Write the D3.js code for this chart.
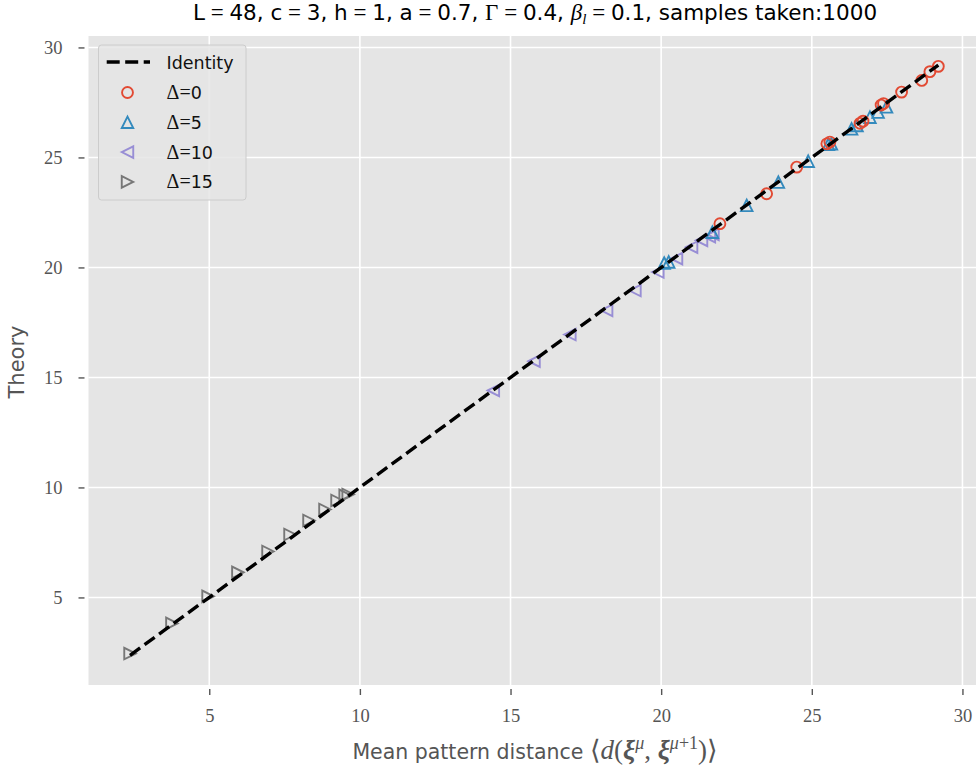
<!DOCTYPE html>
<html>
<head>
<meta charset="utf-8">
<script src="https://cdn.jsdelivr.net/npm/d3@7"></script>
<style>
  html, body { margin: 0; padding: 0; background: #ffffff; }
  svg { display: block; }
  .sans { font-family: "DejaVu Sans", "Noto Sans", sans-serif; }
  .serif { font-family: "Liberation Serif", "DejaVu Serif", serif; }
</style>
</head>
<body>
<svg id="chart" width="978" height="774"></svg>
<script>
// Measured mean pattern distance (x) versus theoretical prediction (y), per Δ
const delta0X  = [21.95, 23.50, 24.50, 25.50, 25.60, 26.60, 26.70, 27.30, 27.38, 27.98, 28.65, 28.92, 29.20];
const delta0Y  = [21.99, 23.35, 24.56, 25.62, 25.70, 26.55, 26.65, 27.38, 27.45, 27.97, 28.50, 28.90, 29.14];
const delta5X  = [20.10, 20.25, 21.70, 22.84, 23.89, 24.88, 25.55, 25.65, 26.32, 26.50, 26.93, 27.20, 27.48];
const delta5Y  = [20.20, 20.25, 21.60, 22.82, 23.88, 24.83, 25.60, 25.62, 26.30, 26.45, 26.83, 27.06, 27.30];
const delta10X = [14.43, 15.78, 16.97, 18.19, 19.13, 19.89, 20.51, 21.01, 21.34, 21.60, 21.72];
const delta10Y = [14.41, 15.74, 16.95, 18.05, 18.95, 19.79, 20.40, 20.92, 21.23, 21.40, 21.50];
const delta15X = [2.37, 3.76, 4.96, 5.95, 6.95, 7.68, 8.31, 8.84, 9.24, 9.51, 9.61];
const delta15Y = [2.45, 3.82, 5.05, 6.14, 7.09, 7.86, 8.50, 9.00, 9.41, 9.64, 9.68];

const identityRange = [2.37, 29.20];
const xTicks = [5, 10, 15, 20, 25, 30];
const yTicks = [5, 10, 15, 20, 25, 30];
const seriesLabels = ["0", "5", "10", "15"];

const series = [
  { label: seriesLabels[0], xs: delta0X,  ys: delta0Y,  color: "#E24A33", shape: "circle" },
  { label: seriesLabels[1], xs: delta5X,  ys: delta5Y,  color: "#348ABD", shape: "up" },
  { label: seriesLabels[2], xs: delta10X, ys: delta10Y, color: "#988ED5", shape: "left" },
  { label: seriesLabels[3], xs: delta15X, ys: delta15Y, color: "#777777", shape: "right" }
];

const svg = d3.select("#chart");
const plot = { left: 88.5, right: 976, top: 36, bottom: 685 };

const x = d3.scaleLinear().domain([0.992, 30.45]).range([plot.left, plot.right]);
const y = d3.scaleLinear().domain([1.02, 30.52]).range([plot.bottom, plot.top]);

// Panel background
svg.append("rect")
  .attr("x", plot.left).attr("y", plot.top)
  .attr("width", plot.right - plot.left).attr("height", plot.bottom - plot.top)
  .attr("fill", "#E5E5E5");

// Grid
const grid = svg.append("g");
grid.selectAll("line.gx").data(xTicks).join("line")
  .attr("x1", d => x(d)).attr("x2", d => x(d))
  .attr("y1", plot.top).attr("y2", plot.bottom)
  .attr("stroke", "#ffffff").attr("stroke-width", 1.6);
grid.selectAll("line.gy").data(yTicks).join("line")
  .attr("y1", d => y(d)).attr("y2", d => y(d))
  .attr("x1", plot.left).attr("x2", plot.right)
  .attr("stroke", "#ffffff").attr("stroke-width", 1.6);

// Axes: short dark ticks set slightly off the panel, serif tick labels
const xAxis = d3.axisBottom(x).tickValues(xTicks).tickSize(6).tickPadding(14).tickFormat(d3.format("d"));
const gx = svg.append("g").attr("transform", `translate(0,${plot.bottom + 4})`).call(xAxis);
gx.select(".domain").remove();
gx.selectAll(".tick line").attr("stroke", "#555555").attr("stroke-width", 1.4);
gx.selectAll(".tick text").attr("class", "serif").attr("font-size", 18.5).attr("fill", "#555555");

const yAxis = d3.axisLeft(y).tickValues(yTicks).tickSize(6).tickPadding(16).tickFormat(d3.format("d"));
const gy = svg.append("g").attr("transform", `translate(${plot.left - 4},0)`).call(yAxis);
gy.select(".domain").remove();
gy.selectAll(".tick line").attr("stroke", "#555555").attr("stroke-width", 1.4);
gy.selectAll(".tick text").attr("class", "serif").attr("font-size", 18.5).attr("fill", "#555555");

// Marker shapes
const MS = 11.5;
function markerPath(shape, s) {
  const h = s / 2;
  if (shape === "up") return `M0,${-h}L${h},${h}L${-h},${h}Z`;
  if (shape === "left") return `M${-h},0L${h},${-h}L${h},${h}Z`;
  if (shape === "right") return `M${h},0L${-h},${h}L${-h},${-h}Z`;
  return null;
}
function drawMarker(g, shape, color) {
  if (shape === "circle") {
    g.append("circle").attr("r", MS / 2 - 0.3)
      .attr("fill", "none").attr("stroke", color).attr("stroke-width", 1.9);
  } else {
    g.append("path").attr("d", markerPath(shape, MS))
      .attr("fill", "none").attr("stroke", color).attr("stroke-width", 1.9)
      .attr("stroke-linejoin", "miter");
  }
}

// Points (drawn from the last series to the first so Δ=0 ends on top)
const pts = svg.append("g");
series.slice().reverse().forEach(s => {
  s.xs.forEach((xv, i) => {
    const g = pts.append("g").attr("transform", `translate(${x(xv)},${y(s.ys[i])})`);
    drawMarker(g, s.shape, s.color);
  });
});

// Identity line
svg.append("line")
  .attr("x1", x(identityRange[0])).attr("y1", y(identityRange[0]))
  .attr("x2", x(identityRange[1])).attr("y2", y(identityRange[1]))
  .attr("stroke", "#000000").attr("stroke-width", 3.4)
  .attr("stroke-dasharray", "12.5,5.5");

// Legend
const lg = svg.append("g");
lg.append("rect")
  .attr("x", 98.5).attr("y", 45).attr("width", 147.5).attr("height", 155)
  .attr("rx", 3).attr("fill", "#E5E5E5").attr("fill-opacity", 0.85)
  .attr("stroke", "#CCCCCC").attr("stroke-width", 1);
lg.append("line")
  .attr("x1", 106.7).attr("x2", 150).attr("y1", 62).attr("y2", 62)
  .attr("stroke", "#000").attr("stroke-width", 3.4).attr("stroke-dasharray", "13,5.5");
lg.append("text").attr("class", "sans").attr("x", 166.5).attr("y", 68.5)
  .attr("font-size", 17.5).attr("fill", "#111").text("Identity");
series.forEach((s, i) => {
  const yy = 92.5 + i * 29.8;
  const g = lg.append("g").attr("transform", `translate(127.5,${yy})`);
  drawMarker(g, s.shape, s.color);
  const t = lg.append("text").attr("class", "sans").attr("x", 166.5).attr("y", yy + 6.5)
    .attr("font-size", 17.5).attr("fill", "#111");
  t.append("tspan").attr("class", "serif").attr("font-size", 20).text("Δ");
  t.append("tspan").attr("class", "serif").attr("font-size", 20).text("=");
  t.append("tspan").text(s.label);
});

// Title
const title = svg.append("text").attr("class", "sans")
  .attr("x", 535).attr("y", 20).attr("text-anchor", "middle")
  .attr("font-size", 21.5).attr("fill", "#000");
function eq(t) { t.append("tspan").attr("class", "serif").attr("font-size", 23).text(" = "); }
title.append("tspan").text("L"); eq(title);
title.append("tspan").text("48, c"); eq(title);
title.append("tspan").text("3, h"); eq(title);
title.append("tspan").text("1, a"); eq(title);
title.append("tspan").text("0.7, ");
title.append("tspan").attr("class", "serif").attr("font-size", 23).text("Γ"); eq(title);
title.append("tspan").text("0.4, ");
title.append("tspan").attr("class", "serif").attr("font-style", "italic").attr("font-size", 23).text("β");
title.append("tspan").attr("class", "serif").attr("font-style", "italic")
  .attr("font-size", 15).attr("dy", 4).text("l");
title.append("tspan").attr("class", "serif").attr("font-size", 23).attr("dy", -4).text(" = ");
title.append("tspan").text("0.1, samples taken:1000");

// Axis labels
const xl = svg.append("text").attr("class", "sans")
  .attr("x", 535).attr("y", 759).attr("text-anchor", "middle")
  .attr("font-size", 20.5).attr("fill", "#555555");
xl.append("tspan").text("Mean pattern distance ");
const m = (txt) => xl.append("tspan").attr("class", "serif").attr("font-size", 27).text(txt);
m("⟨");
m("d").attr("font-style", "italic");
m("(");
m("ξ").attr("font-style", "italic").attr("font-weight", "bold");
m("μ").attr("font-style", "italic").attr("font-size", 18).attr("dy", -10);
m(", ").attr("dy", 10);
m("ξ").attr("font-style", "italic").attr("font-weight", "bold");
m("μ").attr("font-style", "italic").attr("font-size", 18).attr("dy", -10);
m("+1").attr("font-size", 18);
m(")⟩").attr("dy", 10);

svg.append("text").attr("class", "sans")
  .attr("transform", "translate(24,362) rotate(-90)")
  .attr("text-anchor", "middle").attr("font-size", 21).attr("fill", "#555555")
  .text("Theory");
</script>
</body>
</html>
